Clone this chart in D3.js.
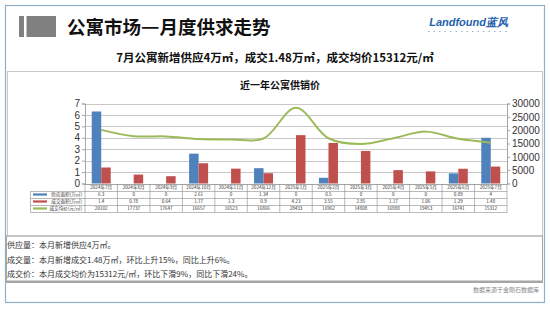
<!DOCTYPE html>
<html lang="zh">
<head>
<meta charset="utf-8">
<title>公寓市场—月度供求走势</title>
<script src="https://d3js.org/d3.v7.min.js"></script>
<style>
  body { margin: 0; background: #fff; }
  svg { display: block; font-family: "Noto Sans CJK SC", "Noto Sans", sans-serif; }
</style>
</head>
<body>
<svg id="chart" width="550" height="309"></svg>
<script>
// ---- data ----
var months = ["2024年7月", "2024年8月", "2024年9月", "2024年10月", "2024年11月", "2024年12月",
              "2025年1月", "2025年2月", "2025年3月", "2025年4月", "2025年5月", "2025年6月", "2025年7月"];
var supply = [6.3, 0, 0, 2.61, 0, 1.34, 0, 0.5, 0, 0, 0, 0.89, 4];
var deal   = [1.4, 0.78, 0.64, 1.77, 1.3, 0.9, 4.23, 3.55, 2.85, 1.17, 1.06, 1.29, 1.48];
var price  = [20102, 17737, 17647, 16657, 16523, 16866, 28433, 16962, 14808, 16988, 19453, 16741, 15312];
var leftTicks  = [0, 1, 2, 3, 4, 5, 6, 7];
var rightTicks = [0, 5000, 10000, 15000, 20000, 25000, 30000];
var seriesNames = ["供应面积(万㎡)", "成交面积(万㎡)", "成交均价(元/㎡)"];
var notes = [
  "供应量：本月新增供应4万㎡。",
  "成交量：本月新增成交1.48万㎡，环比上升15%，同比上升6%。",
  "成交价：本月成交均价为15312元/㎡，环比下滑9%，同比下滑24%。"
];

var blue = "#4f81bd", red = "#c0504d", green = "#9bbb59";
var svg = d3.select("#chart");

// outer frame
svg.append("rect").attr("x", 5.5).attr("y", 5.5).attr("width", 539).attr("height", 297)
    .attr("fill", "#fff").attr("stroke", "#8fb0c6").attr("stroke-width", 1.2);

// header blocks + title
svg.append("rect").attr("x", 19).attr("y", 16).attr("width", 5).attr("height", 21).attr("fill", "#808080");
svg.append("rect").attr("x", 26.5).attr("y", 16).attr("width", 29.5).attr("height", 21).attr("fill", "#808080");

// title in three pieces so the dash can be widened to full width
var tx = 67;
["公寓市场", "—", "月度供求走势"].forEach(function(part) {
  var t = svg.append("text").attr("y", 33.5)
      .attr("font-size", 18.5).attr("font-weight", "bold").attr("fill", "#111").text(part);
  var w = t.node().getComputedTextLength();
  if (part === "—") {
    var k = 18.5 / w;
    t.attr("transform", "translate(" + tx + ",0) scale(" + k + ",1)");
    tx += 18.5;
  } else {
    t.attr("x", tx);
    tx += w;
  }
});

// logo
svg.append("text").attr("x", 508).attr("y", 26).attr("text-anchor", "end")
    .attr("font-size", 11).attr("font-weight", "bold").attr("font-style", "italic")
    .attr("fill", "#1e62ad").attr("font-family", "'Liberation Sans', Arial, sans-serif")
    .text("Landfound蓝风");
svg.append("line").attr("x1", 428).attr("x2", 508).attr("y1", 31.5).attr("y2", 31.5)
    .attr("stroke", "#9ab3cf").attr("stroke-width", 1).attr("stroke-dasharray", "1.5,4");

// subtitle
svg.append("text").attr("x", 275).attr("y", 62).attr("text-anchor", "middle")
    .attr("font-size", 11.5).attr("font-weight", "bold").attr("fill", "#111")
    .text("7月公寓新增供应4万㎡，成交1.48万㎡，成交均价15312元/㎡");

// chart box + notes box
svg.append("rect").attr("x", 7.5).attr("y", 71.5).attr("width", 535).attr("height", 164.5)
    .attr("fill", "none").attr("stroke", "#c8c8c8");
svg.append("rect").attr("x", 6.5).attr("y", 236).attr("width", 536).attr("height", 46.5)
    .attr("fill", "none").attr("stroke", "#a6a6a6");
svg.append("line").attr("x1", 6.5).attr("x2", 542.5).attr("y1", 281.5).attr("y2", 281.5)
    .attr("stroke", "#a6a6a6").attr("stroke-width", 2);

svg.append("text").attr("x", 280).attr("y", 89).attr("text-anchor", "middle")
    .attr("font-size", 10).attr("font-weight", "bold").attr("fill", "#111")
    .text("近一年公寓供销价");

// scales
var plot = {left: 85, right: 507, top: 103.5, bottom: 183.5};
var x = d3.scaleBand().domain(months).range([plot.left, plot.right]).paddingInner(0).paddingOuter(0);
var yL = d3.scaleLinear().domain([0, 7]).range([plot.bottom, plot.top]);
var yR = d3.scaleLinear().domain([0, 30000]).range([plot.bottom, plot.top]);
var inner = d3.scaleBand().domain([0, 1]).range([0, x.bandwidth()]).paddingOuter(0.71).paddingInner(0);

// gridlines
svg.append("g").selectAll("line").data(leftTicks).join("line")
    .attr("x1", plot.left).attr("x2", plot.right)
    .attr("y1", function(d) { return Math.round(yL(d)) + 0.5; })
    .attr("y2", function(d) { return Math.round(yL(d)) + 0.5; })
    .attr("stroke", "#c8c8c8");

// axes
var axL = svg.append("g").attr("transform", "translate(" + plot.left + ",0)")
    .call(d3.axisLeft(yL).tickValues(leftTicks).tickFormat(d3.format("d")).tickSize(3).tickPadding(2));
var axR = svg.append("g").attr("transform", "translate(" + plot.right + ",0)")
    .call(d3.axisRight(yR).tickValues(rightTicks).tickFormat(d3.format("d")).tickSize(3).tickPadding(2));
[axL, axR].forEach(function(a) {
  a.select(".domain").attr("stroke", "#a6a6a6");
  a.selectAll(".tick line").attr("stroke", "#a6a6a6");
  a.selectAll("text").attr("font-size", 10).attr("fill", "#333")
      .attr("font-family", "'Liberation Sans', Arial, sans-serif");
});

// bars
svg.append("g").selectAll("rect").data(supply).join("rect")
    .attr("x", function(d, i) { return x(months[i]) + inner(0); })
    .attr("y", function(d) { return yL(d); })
    .attr("width", inner.bandwidth())
    .attr("height", function(d) { return yL(0) - yL(d); })
    .attr("fill", blue);
svg.append("g").selectAll("rect").data(deal).join("rect")
    .attr("x", function(d, i) { return x(months[i]) + inner(1); })
    .attr("y", function(d) { return yL(d); })
    .attr("width", inner.bandwidth())
    .attr("height", function(d) { return yL(0) - yL(d); })
    .attr("fill", red);

// price line (smoothed like Excel)
var line = d3.line()
    .curve(d3.curveCatmullRom.alpha(0.5))
    .x(function(d, i) { return x(months[i]) + x.bandwidth() / 2; })
    .y(function(d) { return yR(d); });
svg.append("path").datum(price).attr("d", line)
    .attr("fill", "none").attr("stroke", green).attr("stroke-width", 2);

// data table
var tTop = 184, rowH = 7, legL = 30.5;
var rows = [months, supply, deal, price];
var tg = svg.append("g");
for (var r = 0; r <= 4; r++) {
  var yy = tTop + r * rowH + 0.5;
  tg.append("line").attr("x1", r === 0 ? plot.left : legL).attr("x2", plot.right)
      .attr("y1", yy).attr("y2", yy).attr("stroke", "#8c8c8c").attr("stroke-width", 0.6);
}
tg.append("line").attr("x1", legL).attr("x2", legL).attr("y1", tTop + rowH).attr("y2", tTop + 4 * rowH + 0.5)
    .attr("stroke", "#8c8c8c").attr("stroke-width", 0.6);
tg.selectAll("line.v").data(d3.range(months.length + 1)).join("line")
    .attr("x1", function(i) { return plot.left + i * x.bandwidth(); })
    .attr("x2", function(i) { return plot.left + i * x.bandwidth(); })
    .attr("y1", tTop).attr("y2", tTop + 4 * rowH + 0.5)
    .attr("stroke", "#8c8c8c").attr("stroke-width", 0.6);

rows.forEach(function(row, r) {
  tg.append("g").selectAll("text").data(row).join("text")
      .attr("x", function(d, i) { return x(months[i]) + x.bandwidth() / 2; })
      .attr("y", tTop + r * rowH + 5.3)
      .attr("text-anchor", "middle").attr("font-size", 4.6).attr("fill", "#333")
      .text(function(d) { return d; });
});

var keyColors = [blue, red, green];
seriesNames.forEach(function(n, k) {
  var cy = tTop + (k + 1) * rowH + 3.5;
  tg.append("line").attr("x1", 33).attr("x2", 47).attr("y1", cy).attr("y2", cy)
      .attr("stroke", keyColors[k]).attr("stroke-width", 2.2);
  tg.append("text").attr("x", 82).attr("y", cy + 1.7).attr("text-anchor", "end")
      .attr("font-size", 4.6).attr("fill", "#333").text(n);
});

// notes
svg.append("g").selectAll("text").data(notes).join("text")
    .attr("x", 7).attr("y", function(d, i) { return 248 + i * 14.5; })
    .attr("font-size", 8).attr("fill", "#333")
    .text(function(d) { return d; });

svg.append("text").attr("x", 539).attr("y", 292).attr("text-anchor", "end")
    .attr("font-size", 6).attr("fill", "#888").text("数据来源于金刚石数据库");
</script>
</body>
</html>
